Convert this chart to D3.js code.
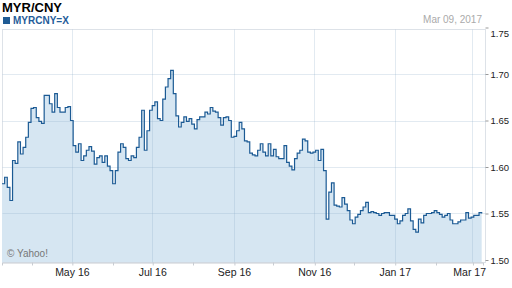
<!DOCTYPE html>
<html>
<head>
<meta charset="utf-8">
<script src="https://d3js.org/d3.v7.min.js"></script>
<style>
  html, body { margin: 0; padding: 0; background: #fff; }
  svg { display: block; font-family: Arial, "Liberation Sans", sans-serif; }
</style>
</head>
<body>
<div id="chart"></div>
<script>
  // MYR/CNY closes, one reading every 2 days starting 2016-03-09
  const startDate = "2016-03-09";
  const stepDays = 2;
  const closes = [
    1.582, 1.589, 1.578, 1.564, 1.607, 1.604, 1.627, 1.614, 1.621, 1.632,
    1.648, 1.663, 1.664, 1.653, 1.649, 1.647, 1.677, 1.677, 1.668, 1.659,
    1.679, 1.664, 1.659, 1.659, 1.664, 1.665, 1.650, 1.623, 1.616, 1.625,
    1.607, 1.612, 1.618, 1.622, 1.617, 1.603, 1.610, 1.612, 1.605, 1.612,
    1.601, 1.596, 1.582, 1.596, 1.616, 1.625, 1.621, 1.609, 1.607, 1.612,
    1.610, 1.621, 1.632, 1.661, 1.618, 1.639, 1.661, 1.666, 1.670, 1.652,
    1.650, 1.673, 1.686, 1.695, 1.704, 1.679, 1.655, 1.643, 1.648, 1.654,
    1.649, 1.652, 1.646, 1.641, 1.651, 1.654, 1.654, 1.659, 1.657, 1.664,
    1.660, 1.659, 1.653, 1.645, 1.653, 1.654, 1.650, 1.632, 1.633, 1.639,
    1.648, 1.641, 1.628, 1.627, 1.615, 1.613, 1.612, 1.618, 1.625, 1.616,
    1.612, 1.625, 1.612, 1.619, 1.611, 1.609, 1.609, 1.623, 1.605, 1.601,
    1.597, 1.609, 1.615, 1.618, 1.630, 1.628, 1.616, 1.615, 1.616, 1.618,
    1.607, 1.619, 1.596, 1.544, 1.573, 1.583, 1.559, 1.558, 1.557, 1.567,
    1.560, 1.553, 1.543, 1.539, 1.546, 1.549, 1.553, 1.557, 1.562, 1.551,
    1.552, 1.551, 1.550, 1.548, 1.550, 1.551, 1.551, 1.548, 1.548, 1.544,
    1.539, 1.542, 1.548, 1.550, 1.555, 1.542, 1.533, 1.530, 1.544, 1.540,
    1.548, 1.550, 1.550, 1.551, 1.553, 1.551, 1.549, 1.546, 1.548, 1.550,
    1.543, 1.539, 1.539, 1.541, 1.543, 1.543, 1.551, 1.545, 1.546, 1.548,
    1.548, 1.551, 1.550
  ];
  const yTicks = [1.50, 1.55, 1.60, 1.65, 1.70, 1.75];
  const majorTicks = ["2016-05-01", "2016-07-01", "2016-09-01", "2016-11-01", "2017-01-01", "2017-03-01"];
  const minorTicks = ["2016-04-01", "2016-06-01", "2016-08-01", "2016-10-01", "2016-12-01", "2017-02-01"];
  const domainDates = ["2016-03-09", "2017-03-09"];

  const width = 512;
  const height = 288;
  const plot = {left: 2.5, right: 485.5, top: 29.5, bottom: 262.5};

  const parse = d3.timeParse("%Y-%m-%d");
  const start = parse(startDate);
  const data = closes.map((v, i) => ({date: d3.timeDay.offset(start, i * stepDays), value: v}));

  const x = d3.scaleTime()
    .domain(domainDates.map(parse))
    .range([2, 483]);

  const y = d3.scaleLinear()
    .domain([1.50, 1.75])
    .range([260, 27.5]);

  const svg = d3.select("#chart")
    .append("svg")
    .attr("width", width)
    .attr("height", height);

  // plot frame
  svg.append("rect")
    .attr("x", plot.left)
    .attr("y", plot.top)
    .attr("width", plot.right - plot.left)
    .attr("height", plot.bottom - plot.top)
    .attr("fill", "#fff")
    .attr("stroke", "#dde2e8")
    .attr("stroke-width", 1);

  // area under the line
  const area = d3.area()
    .curve(d3.curveStepAfter)
    .x(d => x(d.date))
    .y0(plot.bottom)
    .y1(d => y(d.value));

  svg.append("path")
    .datum(data)
    .attr("d", area)
    .attr("fill", "#d6e6f2");

  // grid on top of the fill
  const grid = svg.append("g").attr("stroke", "rgba(140,170,200,0.25)").attr("stroke-width", 1);
  grid.selectAll(".hgrid")
    .data(yTicks.filter(t => t > 1.50 && t < 1.75))
    .enter().append("line")
    .attr("x1", plot.left)
    .attr("x2", plot.right)
    .attr("y1", d => Math.round(y(d)) + 0.5)
    .attr("y2", d => Math.round(y(d)) + 0.5);
  grid.selectAll(".vgrid")
    .data(majorTicks.map(parse))
    .enter().append("line")
    .attr("x1", d => Math.round(x(d)) + 0.5)
    .attr("x2", d => Math.round(x(d)) + 0.5)
    .attr("y1", plot.top)
    .attr("y2", plot.bottom);

  // price line
  const line = d3.line()
    .curve(d3.curveStepAfter)
    .x(d => x(d.date))
    .y(d => y(d.value));

  svg.append("path")
    .datum(data)
    .attr("d", line)
    .attr("fill", "none")
    .attr("stroke", "#1b5a94")
    .attr("stroke-width", 1.2)
    .attr("stroke-linejoin", "miter");

  // bottom axis
  const xAxis = d3.axisBottom(x)
    .tickValues(majorTicks.map(parse))
    .tickFormat(d3.timeFormat("%b %y"))
    .tickSize(3)
    .tickPadding(3);

  const gx = svg.append("g")
    .attr("transform", `translate(0,${plot.bottom})`)
    .call(xAxis);
  gx.select(".domain").attr("stroke", "#c8ccd2");
  gx.selectAll(".tick line").attr("stroke", "#c8ccd2").attr("transform", "translate(0.5,0)");
  gx.selectAll("text").attr("fill", "#222").style("font-size", "10.5px");
  // last label is kept inside the plot's right edge
  gx.selectAll(".tick")
    .filter((d, i, n) => i === n.length - 1)
    .select("text")
    .attr("text-anchor", "end")
    .attr("x", plot.right - x(parse(majorTicks[majorTicks.length - 1])));

  svg.append("g")
    .selectAll("line")
    .data(minorTicks.map(parse))
    .enter().append("line")
    .attr("x1", d => Math.round(x(d)) + 0.5)
    .attr("x2", d => Math.round(x(d)) + 0.5)
    .attr("y1", plot.bottom)
    .attr("y2", plot.bottom + 3)
    .attr("stroke", "#c8ccd2");

  // right axis
  const yAxis = d3.axisRight(y)
    .tickValues(yTicks)
    .tickFormat(d3.format(".2f"))
    .tickSize(3)
    .tickPadding(2);

  const gy = svg.append("g")
    .attr("transform", `translate(${plot.right},0)`)
    .call(yAxis);
  gy.select(".domain").remove();
  gy.selectAll(".tick line").attr("stroke", "#999");
  gy.selectAll("text").attr("fill", "#222").style("font-size", "9.5px");
  gy.selectAll(".tick")
    .filter(d => d === 1.75)
    .select("text").attr("dy", "0.9em");

  // titles
  svg.append("text")
    .attr("x", 2)
    .attr("y", 12)
    .attr("font-weight", "bold")
    .attr("font-size", 13)
    .attr("fill", "#000")
    .text("MYR/CNY");

  svg.append("rect")
    .attr("x", 3)
    .attr("y", 17)
    .attr("width", 7)
    .attr("height", 7)
    .attr("fill", "#1f5b94");

  svg.append("text")
    .attr("x", 13)
    .attr("y", 24)
    .attr("font-weight", "bold")
    .attr("font-size", 10)
    .attr("fill", "#1f5c99")
    .text("MYRCNY=X");

  svg.append("text")
    .attr("x", 482)
    .attr("y", 23)
    .attr("text-anchor", "end")
    .attr("font-size", 10)
    .attr("fill", "#aaa")
    .text("Mar 09, 2017");

  svg.append("text")
    .attr("x", 7)
    .attr("y", 257)
    .attr("font-size", 10)
    .attr("fill", "#777")
    .text("© Yahoo!");
</script>
</body>
</html>
